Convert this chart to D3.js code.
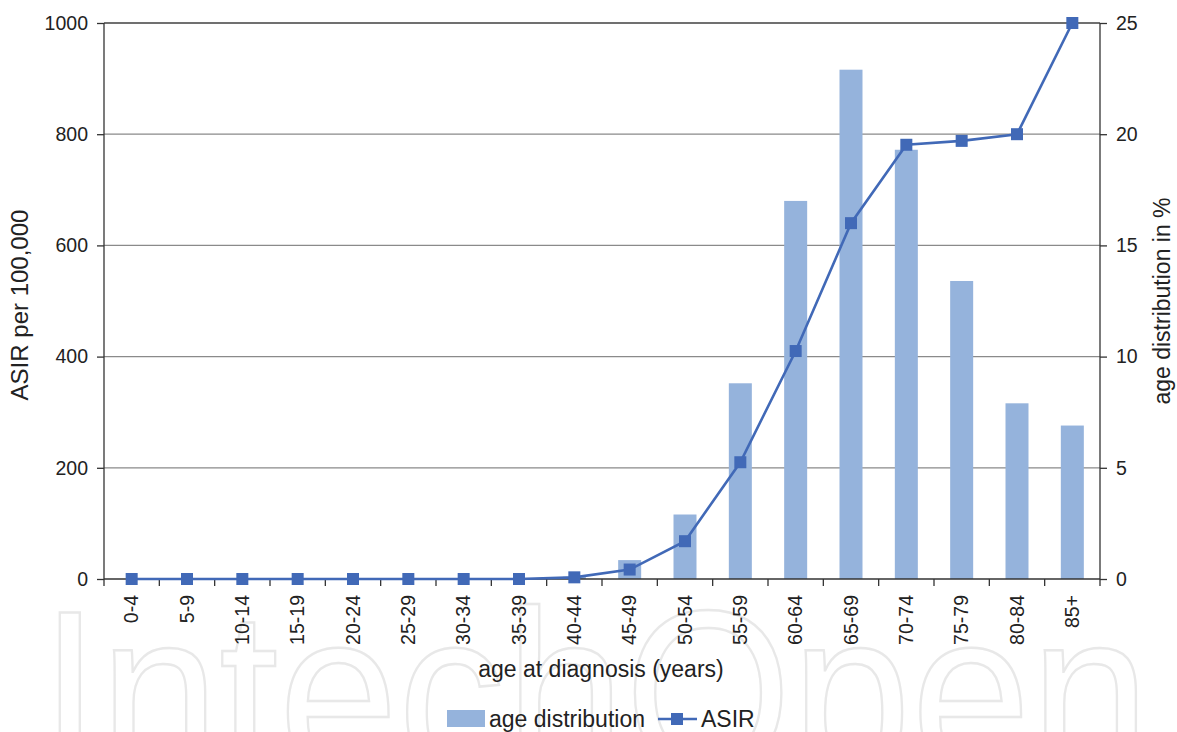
<!DOCTYPE html>
<html><head><meta charset="utf-8">
<script src="https://cdn.jsdelivr.net/npm/d3@7"></script>
<style>body{margin:0;background:#fff;} text{font-family:"Liberation Sans",Arial,sans-serif;}</style>
</head><body>
<svg id="c" width="1177" height="732"></svg>
<script>
const categories = ["0-4","5-9","10-14","15-19","20-24","25-29","30-34","35-39","40-44","45-49","50-54","55-59","60-64","65-69","70-74","75-79","80-84","85+"];
const ageDistribution = [0,0,0,0,0,0,0,0,0.1,0.85,2.9,8.8,17.0,22.9,19.3,13.4,7.9,6.9];
const asir = [0,0,0,0,0,0,0,0,3,17,68,210,410,640,781,788,800,1000];
const leftTicks = [0,200,400,600,800,1000];
const rightTicks = [0,5,10,15,20,25];

const svg = d3.select("#c");
const L=104, R=1100, T=23, B=579;
const FF = "Liberation Sans, Arial, sans-serif";
// watermark
svg.append("text").attr("x",40).attr("y",775).attr("textLength",1110).attr("lengthAdjust","spacingAndGlyphs")
  .attr("font-size",235).attr("fill","none").attr("stroke","#e8e8e8").attr("stroke-width",2.5)
  .style("font-family",FF).text("IntechOpen");

const x = d3.scaleBand().domain(categories).range([L,R]);
const yL = d3.scaleLinear().domain([0,1000]).range([B,T]);
const yR = d3.scaleLinear().domain([0,25]).range([B,T]);

// gridlines
svg.append("g").selectAll("line").data(leftTicks.filter(d=>d>0)).join("line")
  .attr("x1",L).attr("x2",R).attr("y1",d=>yL(d)).attr("y2",d=>yL(d))
  .attr("stroke",d=>d===1000?"#404040":"#8a8a8a").attr("stroke-width",1.3);

// bars
const bw = 23;
svg.append("g").selectAll("rect").data(ageDistribution).join("rect")
  .attr("x",(d,i)=>x(categories[i])+x.bandwidth()/2-bw/2).attr("width",bw)
  .attr("y",d=>yR(d)).attr("height",d=>B-yR(d)).attr("fill","#95b3dc");

// axes
const gL = svg.append("g").attr("transform",`translate(${L},0)`)
  .call(d3.axisLeft(yL).tickValues(leftTicks).tickFormat(d3.format("d")).tickSize(7).tickPadding(9));
const gR = svg.append("g").attr("transform",`translate(${R},0)`)
  .call(d3.axisRight(yR).tickValues(rightTicks).tickFormat(d3.format("d")).tickSize(7).tickPadding(9));
[gL,gR].forEach(g=>{g.selectAll("text").attr("font-size",19.5).attr("fill","#222").style("font-family",FF);
  g.selectAll("line").attr("stroke","#333").attr("stroke-width",1.3);
  g.select(".domain").attr("stroke","#333").attr("stroke-width",1.3).attr("d",`M0,${T}V${B}`);});

// x axis
const gX = svg.append("g").attr("transform",`translate(0,${B})`)
  .call(d3.axisBottom(x).tickSize(0).tickPadding(10));
gX.select(".domain").attr("stroke","#333").attr("stroke-width",1.3).attr("d",`M${L},0H${R}`);
gX.selectAll("text").attr("font-size",19.5).attr("fill","#222").style("font-family",FF)
  .attr("transform","rotate(-90)").attr("text-anchor","end").attr("x",-16).attr("y",0).attr("dy","0.35em");
// tick marks between categories
svg.append("g").selectAll("line").data(d3.range(categories.length+1)).join("line")
  .attr("x1",i=>L+i*x.step()).attr("x2",i=>L+i*x.step()).attr("y1",B).attr("y2",B+7)
  .attr("stroke","#333").attr("stroke-width",1.3);

// line
const cx = (d,i)=>x(categories[i])+x.bandwidth()/2;
svg.append("path").datum(asir).attr("fill","none").attr("stroke","#4169b7").attr("stroke-width",2.6)
  .attr("d",d3.line().x(cx).y(d=>yL(d)));
svg.append("g").selectAll("rect").data(asir).join("rect")
  .attr("x",(d,i)=>cx(d,i)-6).attr("y",d=>yL(d)-6).attr("width",12).attr("height",12).attr("fill","#4169b7");

// titles
svg.append("text").attr("transform",`translate(28,${(T+B)/2 + 4}) rotate(-90)`).attr("text-anchor","middle")
  .attr("font-size",24).attr("fill","#222").style("font-family",FF).text("ASIR per 100,000");
svg.append("text").attr("transform",`translate(1170,${(T+B)/2}) rotate(-90)`).attr("text-anchor","middle")
  .attr("font-size",23).attr("fill","#222").style("font-family",FF).text("age distribution in %");
svg.append("text").attr("x",601).attr("y",677).attr("text-anchor","middle")
  .attr("font-size",23).attr("fill","#222").style("font-family",FF).text("age at diagnosis (years)");

// legend
const lg = svg.append("g");
lg.append("rect").attr("x",447).attr("y",710).attr("width",38).attr("height",17).attr("fill","#95b3dc");
lg.append("text").attr("x",489).attr("y",727).attr("font-size",23).attr("fill","#222").style("font-family",FF).text("age distribution");
lg.append("line").attr("x1",658).attr("x2",697).attr("y1",719).attr("y2",719).attr("stroke","#4169b7").attr("stroke-width",2.6);
lg.append("rect").attr("x",671).attr("y",713).attr("width",12).attr("height",12).attr("fill","#4169b7");
lg.append("text").attr("x",701).attr("y",727).attr("font-size",23).attr("fill","#222").style("font-family",FF).text("ASIR");
</script>
</body></html>
